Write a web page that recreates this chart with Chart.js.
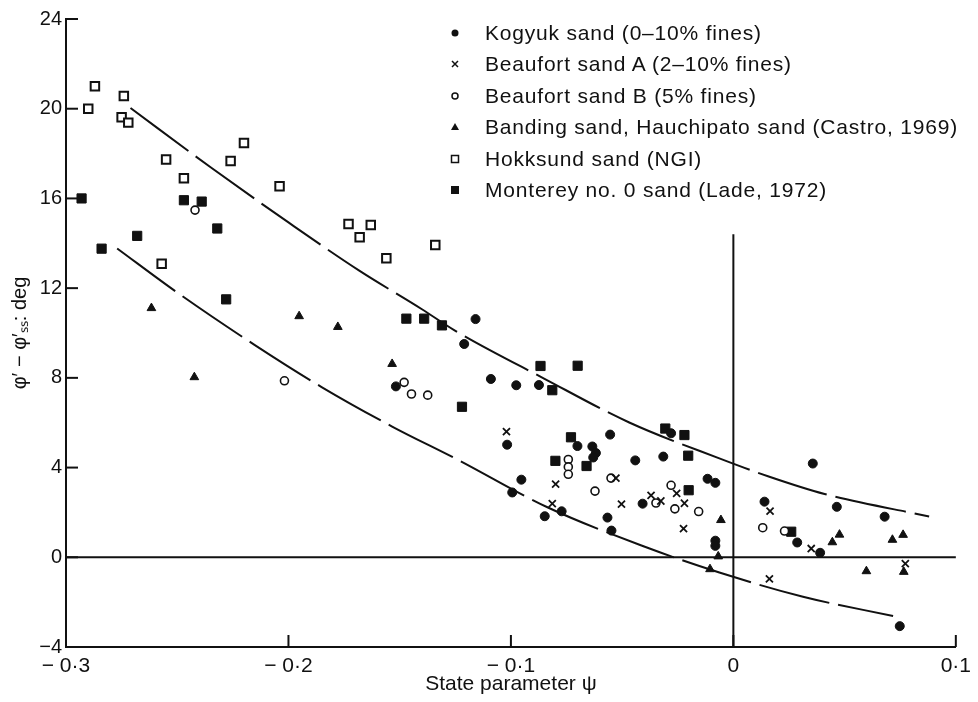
<!DOCTYPE html>
<html>
<head>
<meta charset="utf-8">
<script src="https://cdn.jsdelivr.net/npm/chart.js@4"></script>
<style>
  html, body { margin: 0; padding: 0; background: #fff; }
  #wrap { position: relative; width: 978px; height: 702px; }
  #legend { position: absolute; left: 485px; top: 17px; font-family: "Liberation Sans", Arial, sans-serif;
            font-size: 21px; letter-spacing: 0.8px; color: #111; line-height: 31.4px; white-space: nowrap; }
</style>
</head>
<body>
<div id="wrap">
  <canvas id="chart" width="978" height="702"></canvas>
  <div id="legend"></div>
</div>
<script>
// data: [psi, phi' - phi'ss]
const kogyuk = [[-0.1159,10.62],[-0.121,9.51],[-0.1517,7.62],[-0.109,7.95],[-0.0976,7.67],[-0.0874,7.68],
  [-0.1017,5.02],[-0.0554,5.47],[-0.0701,4.96],[-0.0634,4.94],[-0.0618,4.65],[-0.063,4.45],[-0.0441,4.32],
  [-0.0953,3.46],[-0.0994,2.89],[-0.0772,2.05],[-0.0848,1.83],[-0.0566,1.77],[-0.0548,1.19],[-0.0408,2.39],
  [-0.0315,4.49],[-0.0116,3.5],[-0.0081,3.32],[-0.0081,0.74],[-0.0081,0.51],[-0.028,5.53],[0.0357,4.18],
  [0.014,2.48],[0.0465,2.25],[0.068,1.81],[0.0287,0.66],[0.0748,-3.07],[0.039,0.2]];
const beaufortA = [[-0.102,5.6],[-0.0799,3.26],[-0.0814,2.39],[-0.0528,3.53],[-0.0503,2.37],[-0.037,2.76],
  [-0.0326,2.51],[-0.0255,2.85],[-0.022,2.41],[-0.0224,1.28],[0.0165,2.06],[0.035,0.39],[0.0773,-0.28],[0.0162,-0.96]];
const beaufortB = [[-0.242,15.48],[-0.2018,7.87],[-0.148,7.8],[-0.1447,7.28],[-0.1374,7.23],[-0.0742,4.36],
  [-0.0742,4.03],[-0.0742,3.7],[-0.055,3.53],[-0.0622,2.95],[-0.0348,2.42],[-0.028,3.21],[-0.0263,2.16],
  [-0.0156,2.04],[0.0132,1.32],[0.023,1.17]];
const banding = [[-0.2616,11.11],[-0.1952,10.75],[-0.2423,8.03],[-0.1778,10.27],[-0.1534,8.62],[-0.0056,1.66],
  [-0.0068,0.04],[-0.0105,-0.53],[0.0477,1.01],[0.0445,0.67],[0.0763,1.0],[0.0715,0.78],[0.0598,-0.62],[0.0766,-0.65]];
const hokksund = [[-0.287,21.0],[-0.29,20.0],[-0.274,20.57],[-0.275,19.62],[-0.272,19.38],[-0.255,17.74],
  [-0.247,16.9],[-0.226,17.67],[-0.22,18.47],[-0.204,16.54],[-0.257,13.09],[-0.173,14.86],[-0.163,14.82],
  [-0.168,14.27],[-0.156,13.33],[-0.134,13.92]];
const monterey = [[-0.293,16.0],[-0.284,13.76],[-0.268,14.33],[-0.247,15.92],[-0.239,15.86],[-0.232,14.66],
  [-0.228,11.5],[-0.147,10.64],[-0.139,10.64],[-0.131,10.34],[-0.122,6.71],[-0.0867,8.53],[-0.07,8.54],
  [-0.0814,7.45],[-0.073,5.35],[-0.08,4.3],[-0.066,4.07],[-0.0306,5.74],[-0.022,5.45],[-0.0203,4.53],
  [-0.0201,2.99],[0.026,1.14]];
// bounding curves
const upperBound = [[-0.271,20.03],[-0.235,17.39],[-0.2,14.93],[-0.168,12.77],[-0.14,11.06],[-0.1257,10.14],
  [-0.0851,7.97],[-0.0468,6.01],[-0.0066,4.42],[0.0162,3.59],[0.041,2.82],[0.088,1.82]];
const lowerBound = [[-0.277,13.77],[-0.2498,11.79],[-0.2151,9.46],[-0.1851,7.59],[-0.1534,5.83],[-0.1241,4.36],
  [-0.0836,2.23],[-0.0401,0.48],[-0.0063,-0.68],[0.0313,-1.76],[0.0718,-2.62]];
const zeroLine = [[-0.3,0],[0.1,0]];
const psiZeroLine = [[0,-4],[0,14.4]];

const xTicks = [-0.3,-0.2,-0.1,0,0.1];
const yTicks = [-4,0,4,8,12,16,20,24];

const seriesNames = ["Kogyuk sand (0–10% fines)", "Beaufort sand A (2–10% fines)", "Beaufort sand B (5% fines)",
  "Banding sand, Hauchipato sand (Castro, 1969)", "Hokksund sand (NGI)", "Monterey no. 0 sand (Lade, 1972)"];
const legendMarks = ["disc", "cross", "ring", "tri", "box", "sq"];

const pts = a => a.map(p => ({x: p[0], y: p[1]}));
const fmtX = v => {
    if (Math.abs(v) < 1e-9) return "0";
    return (v < 0 ? "− " : "") + Math.abs(v).toFixed(1).replace(".", "·");
};
const fmtY = v => (v < 0 ? "−" : "") + Math.abs(v);

function markerSet(data, style, r, fill, bw) {
    return { data: pts(data), pointStyle: style, pointRadius: r, pointHoverRadius: r,
             backgroundColor: fill, borderColor: "#111", pointBorderWidth: bw, showLine: false, clip: false };
}
function lineSet(data, dash, tension) {
    return { data: pts(data), showLine: true, pointRadius: 0, borderColor: "#111", borderWidth: 2,
             borderDash: dash, tension: tension, cubicInterpolationMode: "monotone", fill: false, clip: false };
}

// inward tick marks, like the printed figure
const innerTicks = {
    id: "innerTicks",
    afterDraw(chart) {
        const ctx = chart.ctx, xs = chart.scales.x, ys = chart.scales.y;
        const a = chart.chartArea;
        ctx.save();
        ctx.strokeStyle = "#111";
        ctx.lineWidth = 2;
        yTicks.forEach(v => {
            const py = ys.getPixelForValue(v);
            ctx.beginPath(); ctx.moveTo(a.left, py); ctx.lineTo(a.left + 12, py); ctx.stroke();
        });
        xTicks.slice(1).forEach(v => {
            const px = xs.getPixelForValue(v);
            ctx.beginPath(); ctx.moveTo(px, a.bottom); ctx.lineTo(px, a.bottom - 12); ctx.stroke();
        });
        ctx.restore();
    }
};

const datasets = [
    lineSet(zeroLine, [], 0),
    lineSet(psiZeroLine, [], 0),
    lineSet(upperBound, [72, 9], 0.4),
    lineSet(lowerBound, [72, 9], 0.4),
    markerSet(kogyuk, "circle", 4.5, "#111", 1),
    markerSet(beaufortA, "crossRot", 5, "#111", 1.8),
    markerSet(beaufortB, "circle", 4, "#fff", 1.6),
    markerSet(banding, "triangle", 5, "#111", 1),
    markerSet(hokksund, "rect", 6, "#fff", 2),
    markerSet(monterey, "rect", 6.5, "#111", 1)
];

new Chart(document.getElementById("chart"), {
    type: "scatter",
    data: { datasets: datasets },
    options: {
        responsive: false,
        animation: false,
        layout: { padding: { top: 19, right: 21, left: 0, bottom: 0 } },
        plugins: { legend: { display: false }, tooltip: { enabled: false } },
        scales: {
            x: {
                type: "linear", min: -0.3, max: 0.1,
                afterFit(s) { s.height = 55; },
                afterBuildTicks(s) { s.ticks = xTicks.map(v => ({value: v})); },
                grid: { display: false, drawTicks: false },
                border: { display: true, color: "#111", width: 2 },
                ticks: { padding: 7, color: "#111", font: { family: "Liberation Sans", size: 21 }, callback: fmtX, maxRotation: 0 },
                title: { display: true, text: "State parameter ψ", color: "#111", padding: { top: 0, bottom: 5 },
                         font: { family: "Liberation Sans", size: 21 } }
            },
            y: {
                type: "linear", min: -4, max: 24,
                afterFit(s) { s.width = 66; },
                afterBuildTicks(s) { s.ticks = yTicks.map(v => ({value: v})); },
                grid: { display: false, drawTicks: false },
                border: { display: true, color: "#111", width: 2 },
                ticks: { padding: 4, color: "#111", font: { family: "Liberation Sans", size: 20 }, callback: fmtY },
                title: { display: true, text: "φ′ − φ′ₛₛ: deg", color: "#111", padding: { top: 8, bottom: 0 },
                         font: { family: "Liberation Sans", size: 20 } }
            }
        }
    },
    plugins: [innerTicks]
});

// legend (top right, as in the figure)
const leg = document.getElementById("legend");
seriesNames.forEach((name, i) => {
    const row = document.createElement("div");
    row.style.position = "relative";
    const c = document.createElement("canvas");
    c.width = 14; c.height = 14;
    c.style.position = "absolute"; c.style.left = "-37px"; c.style.top = "9px";
    const g = c.getContext("2d");
    g.fillStyle = "#111"; g.strokeStyle = "#111"; g.lineWidth = 1.5;
    const m = legendMarks[i];
    if (m === "disc") { g.beginPath(); g.arc(7, 7, 3.5, 0, 2 * Math.PI); g.fill(); }
    if (m === "ring") { g.beginPath(); g.arc(7, 7, 3, 0, 2 * Math.PI); g.stroke(); }
    if (m === "cross") { g.beginPath(); g.moveTo(4, 4); g.lineTo(10, 10); g.moveTo(10, 4); g.lineTo(4, 10); g.stroke(); }
    if (m === "tri") { g.beginPath(); g.moveTo(7, 3); g.lineTo(11, 10); g.lineTo(3, 10); g.closePath(); g.fill(); }
    if (m === "box") { g.strokeRect(3.5, 3.5, 7, 7); }
    if (m === "sq") { g.fillRect(3, 3, 8, 8); }
    row.appendChild(c);
    row.appendChild(document.createTextNode(name));
    leg.appendChild(row);
});
</script>
</body>
</html>
